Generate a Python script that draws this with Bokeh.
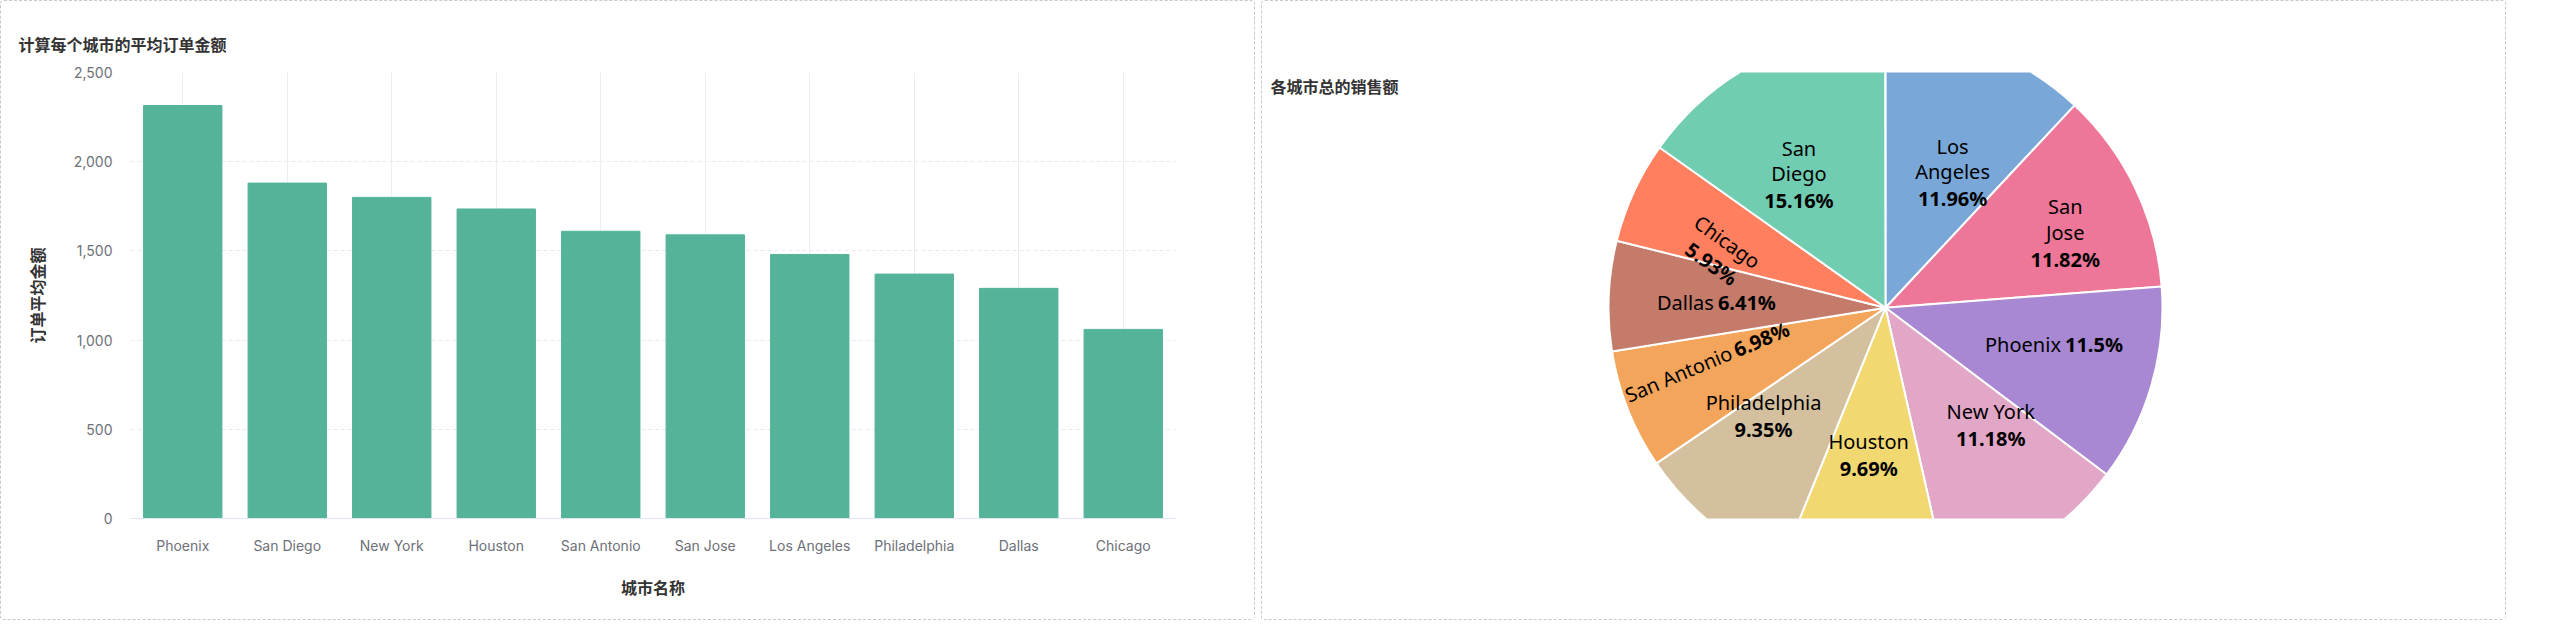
import math
from bokeh.plotting import figure
from bokeh.layouts import row
from bokeh.models import Range1d, NumeralTickFormatter, FixedTicker
from bokeh.core.properties import value
from bokeh.embed import file_html
from bokeh.resources import INLINE

# ---- data ----
cities = ["Phoenix", "San Diego", "New York", "Houston", "San Antonio", "San Jose",
          "Los Angeles", "Philadelphia", "Dallas", "Chicago"]
avg_order = [2315, 1880, 1800, 1735, 1610, 1590, 1480, 1370, 1290, 1060]
y_ticks = [0, 500, 1000, 1500, 2000, 2500]

pie_cities = ["Los Angeles", "San Jose", "Phoenix", "New York", "Houston",
              "Philadelphia", "San Antonio", "Dallas", "Chicago", "San Diego"]
pie_pct = [11.96, 11.82, 11.5, 11.18, 9.69, 9.35, 6.98, 6.41, 5.93, 15.16]
pie_colors = ["#79a8d8", "#ee7799", "#a888d2", "#e2a6c7", "#f1d870",
              "#d4c09e", "#f4a55c", "#c47b6a", "#ff7f5f", "#70cdb2"]

CJK = "Noto Sans CJK SC"
PANEL = {"border": "1px dashed #c5c8ce", "border-radius": "4px"}

# ---- bar chart ----
p1 = figure(x_range=cities, y_range=Range1d(0, 2500), width=1255, height=620,
            output_backend="svg", toolbar_location=None,
            min_border_left=129, min_border_right=81, min_border_top=71, min_border_bottom=103,
            title="计算每个城市的平均订单金额")
p1.styles = PANEL
p1.title.text_font = CJK
p1.title.text_font_size = "16px"
p1.title.text_color = "#333333"
p1.title.offset = -112
p1.title.standoff = 34
p1.outline_line_color = None
p1.vbar(x=cities, top=avg_order, width=0.75, color="#55b39a")
p1.yaxis.ticker = FixedTicker(ticks=y_ticks)
p1.yaxis.formatter = NumeralTickFormatter(format="0,0")
p1.yaxis.axis_line_color = None
p1.yaxis.major_tick_line_color = None
p1.yaxis.minor_tick_line_color = None
p1.xaxis.major_tick_line_color = None
p1.xaxis.axis_line_color = "#e0e6f1"
for ax in (p1.xaxis[0], p1.yaxis[0]):
    ax.major_label_text_font = "Inter"
    ax.major_label_text_font_size = "14px"
    ax.major_label_text_color = "#6e7079"
    ax.axis_label_text_font = CJK
    ax.axis_label_text_font_size = "16px"
    ax.axis_label_text_font_style = "bold"
    ax.axis_label_text_color = "#333333"
p1.xaxis.major_label_standoff = 12
p1.yaxis.major_label_standoff = 12
p1.yaxis.axis_label = "订单平均金额"
p1.xaxis.axis_label = "城市名称"
p1.xaxis.axis_label_standoff = 18
p1.yaxis.axis_label_standoff = 22
p1.ygrid.grid_line_color = "#e6e9f0"
p1.ygrid.grid_line_dash = "4 3"
p1.xgrid.grid_line_color = "#ececf2"

# ---- pie chart ----
W2, H2 = 1245, 620
p2 = figure(width=W2, height=H2, x_range=Range1d(0, W2), y_range=Range1d(0, H2),
            output_backend="svg", toolbar_location=None, title=None,
            x_axis_location=None, y_axis_location=None,
            min_border_left=0, min_border_right=0, min_border_top=0, min_border_bottom=0)
p2.styles = PANEL
p2.grid.visible = False
p2.outline_line_color = None
cx, cy, R = 623, 293, 277
starts, ends, mids = [], [], []
a = math.pi / 2
for v in pie_pct:
    s = a
    e = a - v / 100 * 2 * math.pi
    starts.append(e); ends.append(s); mids.append((s + e) / 2)
    a = e
p2.wedge(x=cx, y=cy, radius=R, start_angle=starts, end_angle=ends,
         fill_color=pie_colors, line_color="white", line_width=2)
p2.text(x=[8], y=[H2 - 19], text=["各城市总的销售额"], text_font=value(CJK),
        text_font_size="16px", text_font_style="bold", text_color="#333333",
        text_baseline="middle")

name_lines = {"Los Angeles": "Los\nAngeles", "San Jose": "San\nJose", "San Diego": "San\nDiego",
              "San Antonio": "San Antonio"}
rfrac = [0.66, 0.72, 0.66, 0.7, 0.74, 0.7, 0.6, 0.62, 0.66, 0.68]
inline = {"Phoenix", "Dallas", "San Antonio"}
rot = {"Chicago": -0.62, "San Antonio": 0.4}
FS = 20
for i, c in enumerate(pie_cities):
    m = mids[i]
    lx = cx + R * rfrac[i] * math.cos(m)
    ly = cy + R * rfrac[i] * math.sin(m)
    pct = f"{pie_pct[i]:g}%"
    ang = rot.get(c, 0)
    nm = name_lines.get(c, c)
    common = dict(text_font=value("Noto Sans"), text_font_size=f"{FS}px", text_color="black", angle=ang)
    if c in inline:
        p2.text(x=[lx], y=[ly], text=[nm], text_align="right", text_baseline="middle", **common)
        dx, dy = 4 * math.cos(ang), 4 * math.sin(ang)
        p2.text(x=[lx + dx], y=[ly + dy], text=[pct], text_align="left", text_baseline="middle",
                text_font_style="bold", **common)
    else:
        p2.text(x=[lx], y=[ly], text=[nm], text_align="center", text_baseline="bottom",
                text_line_height=0.95, **common)
        p2.text(x=[lx], y=[ly], text=[pct], text_align="center", text_baseline="top",
                text_font_style="bold", **common)

lay = row(p1, p2, spacing=6)
open("out.html", "w").write(file_html(lay, INLINE))
